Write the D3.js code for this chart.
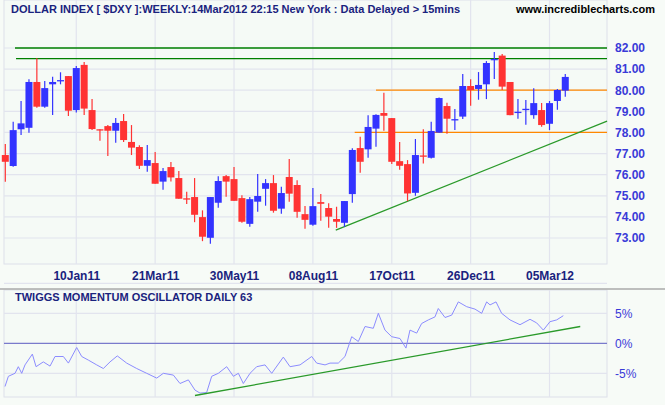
<!DOCTYPE html>
<html><head><meta charset="utf-8">
<script src="https://cdn.jsdelivr.net/npm/d3@7"></script>
<style>body{margin:0;background:#f7fbf7}svg{display:block}</style>
</head><body><svg id="c" width="665" height="405"></svg>
<script>
const open  = [76.93,76.41,78.15,78.22,80.39,79.22,80.28,80.45,80.67,79.06,81.20,79.06,78.15,78.30,78.08,78.54,77.55,77.31,76.42,76.55,75.67,76.36,75.84,74.88,74.94,73.99,73.01,74.67,75.93,75.79,74.89,73.67,74.72,75.33,75.60,74.39,75.89,75.51,74.13,73.63,74.70,74.42,73.90,73.72,75.08,77.26,77.20,78.18,78.92,78.68,76.64,76.50,75.14,76.91,76.80,77.99,79.25,78.62,78.75,80.20,80.06,80.28,81.45,81.64,80.39,78.97,79.11,78.82,79.06,78.41,79.49,79.98];
const high  = [77.45,78.51,79.49,80.52,81.51,80.44,80.64,80.85,80.67,81.15,81.34,79.58,78.15,78.35,78.68,78.87,78.35,77.39,77.40,77.07,76.31,76.60,76.17,75.19,75.84,74.31,74.94,75.93,75.98,76.36,75.03,74.94,76.03,75.79,75.98,75.43,76.74,75.74,74.51,75.37,75.08,74.65,74.48,74.75,77.25,77.80,78.81,78.86,79.88,78.68,77.55,76.69,77.69,78.15,78.51,79.66,79.41,79.11,80.77,80.52,80.86,81.38,81.81,81.72,80.39,79.58,79.54,80.09,79.39,79.49,80.06,80.77];
const low   = [75.66,76.38,77.88,77.99,79.17,79.17,78.83,80.28,78.78,78.94,78.83,78.11,77.61,76.88,77.51,77.55,76.93,76.27,76.14,75.57,75.29,75.68,74.86,74.61,73.75,72.85,72.73,74.43,74.95,74.76,73.72,73.53,74.24,74.53,74.20,74.15,74.72,73.96,73.44,73.58,73.82,73.48,73.48,73.53,74.67,76.09,76.80,77.32,78.08,76.50,76.23,74.75,75.00,76.53,76.76,77.99,77.94,78.11,78.64,79.27,79.55,79.58,80.53,80.01,78.82,78.65,78.37,78.65,78.27,78.11,79.08,79.69];
const close = [76.61,78.11,78.43,80.39,79.22,80.10,80.39,80.48,79.03,81.05,79.13,78.16,78.14,78.08,78.45,77.64,77.28,76.42,76.69,75.57,76.17,75.87,74.86,74.86,74.10,73.06,74.94,75.70,75.67,74.76,73.77,74.84,74.99,75.60,74.29,75.13,75.10,74.24,73.86,74.51,74.62,74.01,73.77,74.75,77.17,76.61,78.26,78.83,78.79,76.61,76.42,75.11,76.93,76.90,78.07,79.63,78.65,78.63,80.20,80.01,80.25,81.29,81.48,80.17,78.82,78.98,79.12,79.39,78.35,79.39,80.01,80.63];
const dateLabels = ["10Jan11","21Mar11","30May11","08Aug11","17Oct11","26Dec11","05Mar12"];
const dateIdx = [9,19,29,39,49,59,69];
const priceTicks = [73,74,75,76,77,78,79,80,81,82];
const oscIdx = [-0.04,0.39,1.23,1.65,2.08,2.5,3.43,3.9,4.82,5.67,6.3,7.36,8.0,9.05,9.69,10.53,11.59,12.43,13.28,14.2,15.39,16.66,17.93,19.2,20.04,21.31,22.15,23.21,24.05,24.69,25.53,26.17,27.01,28.07,28.92,29.55,30.18,31.03,31.87,32.93,33.78,35.25,36.1,37.37,38.85,39.48,40.54,41.17,42.22,43.07,43.92,44.76,45.61,46.66,47.3,48.14,48.99,50.04,50.8,51.31,52.16,52.79,53.64,54.48,54.9,55.75,56.6,57.44,58.5,59.55,60.4,61.03,61.46,62.22,62.93,63.99,65.26,66.53,67.37,68.22,69.06,69.91,70.75];
const oscVal = [-7.2,-5.5,-5.0,-3.9,-5.0,-3.6,-1.8,-3.9,-3.1,-3.8,-2.2,-2.2,-3.3,-0.7,-2.2,-2.8,-3.6,-4.2,-3.1,-2.1,-3.3,-4.2,-5.0,-5.8,-5.0,-5.3,-6.7,-6.1,-7.8,-8.3,-8.2,-5.5,-5.0,-3.9,-5.5,-5.0,-6.7,-5.0,-3.9,-3.6,-5.0,-2.3,-3.9,-3.6,-2.2,-3.3,-3.6,-3.3,-3.3,-2.2,1.1,0.3,2.8,2.5,5.0,2.2,1.1,0.8,-0.8,2.2,1.7,3.3,3.9,4.4,5.8,4.3,4.7,6.9,6.1,5.7,5.0,6.9,6.4,6.9,5.0,3.9,3.1,4.0,3.4,2.2,3.6,3.9,4.6];
const oscTicks = [-5,0,5];
const greenLevels = [82.0,81.5], greenStart=[1.23,1.36];
const orangeLevels = [80.0,78.0], orangeStart=[47.0,44.3];
const trendIdx=[41.9,76.3], trendVal=[73.37,78.54];
const oscTrendIdx=[24.05,72.9], oscTrendVal=[-8.7,2.8];

const svg=d3.select("#c");
const x=d3.scaleLinear().domain([-0.672,76.29]).range([0,607]);
const y=d3.scaleLinear().domain([73,82]).range([238,48]);
const yo=d3.scaleLinear().domain([0,5]).range([343.3,313.3]);
const F="'Liberation Sans',Arial,sans-serif";

// panels
svg.append("rect").attr("x",4).attr("y",0).attr("width",603).attr("height",264).attr("fill","#f5faf6").attr("stroke","#dde0ea");
svg.append("rect").attr("x",4).attr("y",290).attr("width",603).attr("height",107).attr("fill","#f5faf6").attr("stroke","#dde0ea");
svg.append("line").attr("x1",0).attr("x2",665).attr("y1",289).attr("y2",289).attr("stroke","#aaa").attr("stroke-width",1.5);
// grids
const g=svg.append("g").attr("stroke","#e2e4ee").attr("stroke-width",1.2);
dateIdx.forEach(i=>{g.append("line").attr("x1",x(i)).attr("x2",x(i)).attr("y1",0).attr("y2",264);
 g.append("line").attr("x1",x(i)).attr("x2",x(i)).attr("y1",290).attr("y2",397);});
priceTicks.forEach(p=>g.append("line").attr("x1",4).attr("x2",607).attr("y1",y(p)).attr("y2",y(p)));
[-5,5,10].forEach(v=>g.append("line").attr("x1",4).attr("x2",607).attr("y1",yo(v)).attr("y2",yo(v)));
// axes
const ya=svg.append("g").attr("transform","translate(612,0)").call(d3.axisRight(y).tickValues(priceTicks).tickFormat(d3.format(".2f")).tickSize(0));
ya.select(".domain").remove();
ya.selectAll("text").attr("font-family",F).attr("font-weight","bold").attr("font-size",12).attr("fill","#3a3ad8");
const xa=svg.append("g").attr("transform","translate(0,268)").call(d3.axisBottom(x).tickValues(dateIdx).tickFormat((d,i)=>dateLabels[i]).tickSize(0));
xa.select(".domain").remove();
xa.selectAll("text").attr("font-family",F).attr("font-weight","bold").attr("font-size",12).attr("fill","#1a237e");
const oa=svg.append("g").attr("transform","translate(612,0)").call(d3.axisRight(yo).tickValues(oscTicks).tickFormat(d=>d+"%").tickSize(0));
oa.select(".domain").remove();
oa.selectAll("text").attr("font-family",F).attr("font-size",12).attr("fill","#3a3ad8");
// levels
greenLevels.forEach((v,i)=>svg.append("line").attr("x1",x(greenStart[i])).attr("x2",607).attr("y1",y(v)).attr("y2",y(v)).attr("stroke","#008000").attr("stroke-width",1.3));
orangeLevels.forEach((v,i)=>svg.append("line").attr("x1",x(orangeStart[i])).attr("x2",607).attr("y1",y(v)).attr("y2",y(v)).attr("stroke","#ff8800").attr("stroke-width",1.3));
svg.append("line").attr("x1",x(trendIdx[0])).attr("x2",x(trendIdx[1])).attr("y1",y(trendVal[0])).attr("y2",y(trendVal[1])).attr("stroke","#2a9a2a").attr("stroke-width",1.3);
// candles
open.forEach((o,i)=>{
 const c=close[i], col=c>=o?"#3333ff":"#ff3333", cx=x(i);
 svg.append("line").attr("x1",cx).attr("x2",cx).attr("y1",y(high[i])).attr("y2",y(low[i])).attr("stroke",col).attr("stroke-width",1.2);
 const t=y(Math.max(o,c)), b=y(Math.min(o,c));
 svg.append("rect").attr("x",cx-3.5).attr("y",t).attr("width",7).attr("height",Math.max(1.3,b-t)).attr("fill",col);
});
// oscillator
svg.append("line").attr("x1",4).attr("x2",607).attr("y1",yo(0)).attr("y2",yo(0)).attr("stroke","#7a7acc").attr("stroke-width",1.3);
svg.append("path").attr("d",d3.line().x(d=>x(d[0])).y(d=>yo(d[1]))(oscIdx.map((d,i)=>[d,oscVal[i]]))).attr("fill","none").attr("stroke","#8c8cff").attr("stroke-width",1);
svg.append("line").attr("x1",x(oscTrendIdx[0])).attr("x2",x(oscTrendIdx[1])).attr("y1",yo(oscTrendVal[0])).attr("y2",yo(oscTrendVal[1])).attr("stroke","#2a9a2a").attr("stroke-width",1.3);
// titles
svg.append("text").attr("x",11).attr("y",13).attr("font-family",F).attr("font-weight","bold").attr("font-size",11).attr("fill","#1a237e").text("DOLLAR INDEX [ $DXY ]:WEEKLY:14Mar2012 22:15 New York : Data Delayed > 15mins");
svg.append("text").attr("x",516).attr("y",13).attr("font-family",F).attr("font-weight","bold").attr("font-size",11).attr("fill","#000").text("www.incrediblecharts.com");
svg.append("text").attr("x",15).attr("y",301).attr("font-family",F).attr("font-weight","bold").attr("font-size",11).attr("fill","#1a237e").text("TWIGGS MOMENTUM OSCILLATOR DAILY 63");
</script></body></html>
